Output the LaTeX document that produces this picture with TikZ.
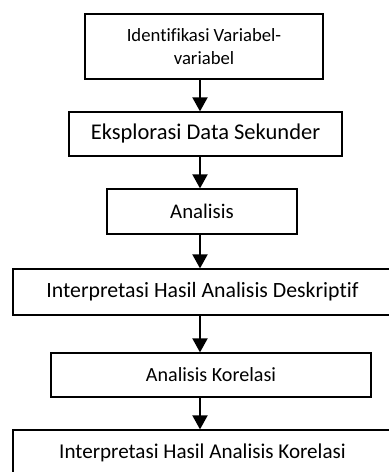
\documentclass[tikz,border=0pt]{standalone}
\usepackage{fontspec}
\setmainfont[Ligatures=NoCommon]{Carlito}
\usetikzlibrary{arrows.meta}

\begin{document}
\begin{tikzpicture}[
  stepbox/.style={draw, line width=0.9pt, align=center, inner sep=0pt},
  flowarrow/.style={line width=1.4pt, -{Triangle[length=0.35cm, width=0.375cm]}}
]%
\useasboundingbox (0,0) rectangle (9.725000, 11.800000);%
\node[stepbox, minimum width=5.950000cm, minimum height=1.625000cm, font=\fontsize{13.3}{16.4}\selectfont] (ident) at (5.100000, 10.637500) {Identifikasi Variabel-\\variabel};%
\node[stepbox, minimum width=6.825000cm, minimum height=1.100000cm, font=\fontsize{16}{18}\selectfont] (eksplor) at (5.137500, 8.450000) {Eksplorasi Data Sekunder};%
\node[stepbox, minimum width=4.750000cm, minimum height=1.125000cm, font=\fontsize{14.8}{17}\selectfont] (analisis) at (5.050000, 6.512500) {Analisis};%
\node[stepbox, minimum width=9.475000cm, minimum height=1.150000cm, font=\fontsize{15.5}{17}\selectfont] (interpdesk) at (5.062500, 4.500000) {Interpretasi Hasil Analisis Deskriptif};%
\node[stepbox, minimum width=8.000000cm, minimum height=1.100000cm, font=\fontsize{14.3}{16}\selectfont] (korelasi) at (5.275000, 2.425000) {Analisis Korelasi};%
\node[stepbox, minimum width=9.475000cm, minimum height=1.150000cm, font=\fontsize{15}{17}\selectfont] (interpkor) at (5.062500, 0.475000) {Interpretasi Hasil Analisis Korelasi};%
\coordinate (axis) at (5.000000, 0.000000);%
\draw[flowarrow] (ident.south -| axis) -- (eksplor.north -| axis);%
\draw[flowarrow] (eksplor.south -| axis) -- (analisis.north -| axis);%
\draw[flowarrow] (analisis.south -| axis) -- (interpdesk.north -| axis);%
\draw[flowarrow] (interpdesk.south -| axis) -- (korelasi.north -| axis);%
\draw[flowarrow] (korelasi.south -| axis) -- (interpkor.north -| axis);%
\end{tikzpicture}
\end{document}
